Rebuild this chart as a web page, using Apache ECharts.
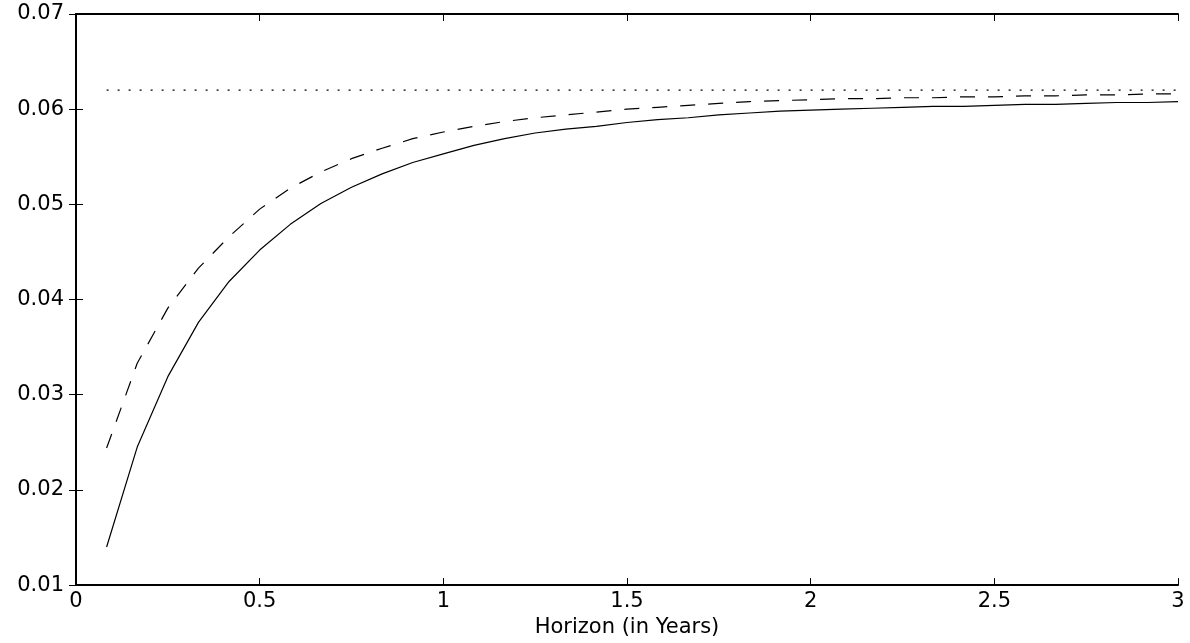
<!DOCTYPE html>
<html>
<head>
<meta charset="utf-8">
<script src="https://cdn.jsdelivr.net/npm/echarts@6/dist/echarts.min.js"></script>
<style>
  html, body { margin: 0; padding: 0; background: #fff; }
  #main { width: 1190px; height: 643px; }
</style>
</head>
<body>
<div id="main"></div>
<script>
// horizon in months (plotted in years)
var months = [1, 2, 3, 4, 5, 6, 7, 8, 9, 10, 11, 12,
              13, 14, 15, 16, 17, 18, 19, 20, 21, 22, 23, 24,
              25, 26, 27, 28, 29, 30, 31, 32, 33, 34, 35, 36];

var solidVals = [0.0140, 0.0245, 0.0319, 0.0376, 0.0419, 0.0452, 0.0479, 0.0501, 0.0518, 0.0532, 0.0544, 0.0553,
                 0.0562, 0.0569, 0.0575, 0.0579, 0.0582, 0.0586, 0.0589, 0.0591, 0.0594, 0.0596, 0.0598, 0.0599,
                 0.0600, 0.0601, 0.0602, 0.0603, 0.0603, 0.0604, 0.0605, 0.0605, 0.0606, 0.0607, 0.0607, 0.0608];

var dashedVals = [0.0244, 0.0333, 0.0391, 0.0433, 0.0466, 0.0495, 0.0517, 0.0534, 0.0548, 0.0559, 0.0569, 0.0576,
                  0.0582, 0.0587, 0.0591, 0.0594, 0.0597, 0.0600, 0.0602, 0.0604, 0.0606, 0.0608, 0.0609, 0.0610,
                  0.0611, 0.0611, 0.0612, 0.0612, 0.0613, 0.0613, 0.0614, 0.0614, 0.0615, 0.0615, 0.0616, 0.0616];

var dottedVals = [0.062, 0.062, 0.062, 0.062, 0.062, 0.062, 0.062, 0.062, 0.062, 0.062, 0.062, 0.062,
                  0.062, 0.062, 0.062, 0.062, 0.062, 0.062, 0.062, 0.062, 0.062, 0.062, 0.062, 0.062,
                  0.062, 0.062, 0.062, 0.062, 0.062, 0.062, 0.062, 0.062, 0.062, 0.062, 0.062, 0.062];

var xLabel = 'Horizon (in Years)';

function pairs(vals) {
    var out = [];
    for (var i = 0; i < months.length; i++) {
        out.push([months[i] / 12, vals[i]]);
    }
    return out;
}

var FONT = 'DejaVu Sans';
var axisLine = { show: true, lineStyle: { color: '#000', width: 2 } };
var tick = { show: true, inside: true, length: 7, lineStyle: { color: '#000', width: 1 } };

var myChart = echarts.init(document.getElementById('main'));
var option = {
    backgroundColor: '#fff',
    animation: false,
    grid: { left: 76, right: 12, top: 14, bottom: 53 },
    xAxis: [{
        type: 'value', min: 0, max: 3, interval: 0.5, position: 'bottom',
        axisLine: axisLine, axisTick: tick, splitLine: { show: false },
        axisLabel: { color: '#000', fontSize: 21, fontFamily: FONT, margin: 6 },
        name: xLabel, nameLocation: 'middle', nameGap: 31,
        nameTextStyle: { color: '#000', fontSize: 21, fontFamily: FONT }
    }, {
        type: 'value', min: 0, max: 3, interval: 0.5, position: 'top',
        axisLine: axisLine, axisTick: tick, splitLine: { show: false },
        axisLabel: { show: false }
    }],
    yAxis: [{
        type: 'value', min: 0.01, max: 0.07, interval: 0.01, position: 'left',
        axisLine: axisLine, axisTick: tick, splitLine: { show: false },
        axisLabel: { color: '#000', fontSize: 21, fontFamily: FONT, margin: 12,
                     formatter: function (v) { return v.toFixed(2); } }
    }, {
        type: 'value', min: 0.01, max: 0.07, interval: 0.01, position: 'right',
        axisLine: axisLine, axisTick: tick, splitLine: { show: false },
        axisLabel: { show: false }
    }],
    series: [{
        type: 'line', xAxisIndex: 0, yAxisIndex: 0, data: pairs(solidVals),
        showSymbol: false, lineStyle: { color: '#000', width: 1.2 }
    }, {
        type: 'line', xAxisIndex: 0, yAxisIndex: 0, data: pairs(dashedVals),
        showSymbol: false, lineStyle: { color: '#000', width: 1.2, type: [15, 13] }
    }, {
        type: 'line', xAxisIndex: 0, yAxisIndex: 0, data: pairs(dottedVals),
        showSymbol: false, lineStyle: { color: '#000', width: 1.2, type: [2, 9] }
    }]
};
myChart.setOption(option);
</script>
</body>
</html>
